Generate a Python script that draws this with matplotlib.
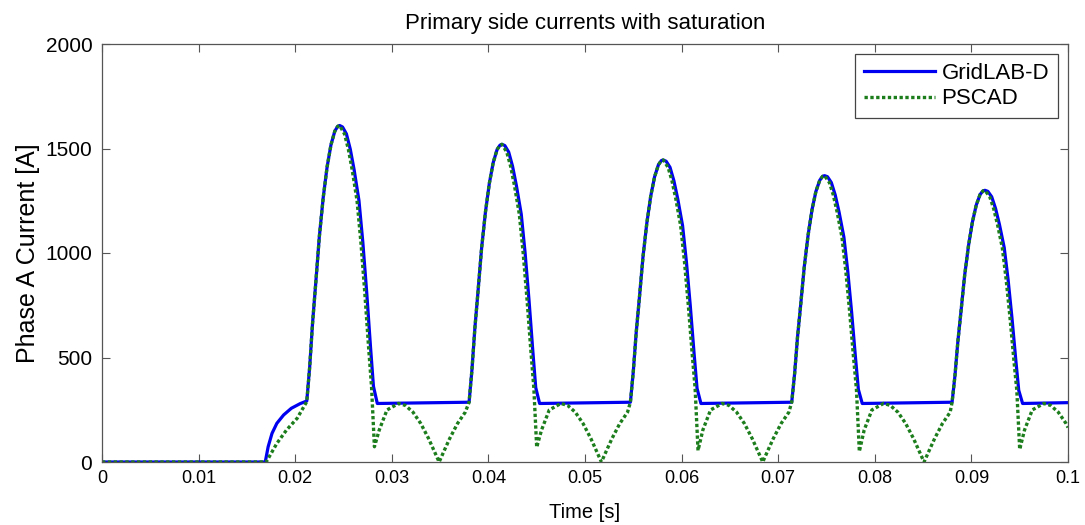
import matplotlib
matplotlib.use("Agg")
import matplotlib.pyplot as plt

plt.rcParams['font.family'] = ['Liberation Sans', 'DejaVu Sans']

# ---- GridLAB-D (blue) ----
gl_t = [0.0, 0.0169, 0.0172, 0.0176, 0.0181, 0.0188, 0.0196, 0.0205,
        0.0212, 0.0215, 0.0218, 0.0221, 0.0225, 0.0229, 0.0233, 0.0237, 0.0241, 0.0244, 0.0246,
        0.0249, 0.0253, 0.0257, 0.0261, 0.0266, 0.0270, 0.0274, 0.0278, 0.0281, 0.0285,
        0.0380, 0.0383, 0.0386, 0.0389, 0.0393, 0.0397, 0.0401, 0.0405, 0.0409, 0.0412, 0.0414,
        0.0417, 0.0421, 0.0425, 0.0429, 0.0434, 0.0438, 0.0442, 0.0446, 0.0449, 0.0453,
        0.0547, 0.0550, 0.0553, 0.0556, 0.0560, 0.0564, 0.0568, 0.0572, 0.0576, 0.0579, 0.0581,
        0.0584, 0.0588, 0.0592, 0.0596, 0.0601, 0.0605, 0.0609, 0.0613, 0.0616, 0.0620,
        0.0714, 0.0717, 0.0720, 0.0723, 0.0727, 0.0731, 0.0735, 0.0739, 0.0743, 0.0746, 0.0748,
        0.0751, 0.0755, 0.0759, 0.0763, 0.0768, 0.0772, 0.0776, 0.0780, 0.0783, 0.0787,
        0.0880, 0.0883, 0.0886, 0.0889, 0.0893, 0.0897, 0.0901, 0.0905, 0.0909, 0.0912, 0.0914,
        0.0917, 0.0921, 0.0925, 0.0929, 0.0934, 0.0938, 0.0942, 0.0946, 0.0949, 0.0953,
        0.1000]
gl_a = [0, 0, 73, 137, 185, 225, 257, 279,
        292, 455, 667, 840, 1079, 1265, 1411, 1517, 1583, 1606, 1610,
        1603, 1570, 1497, 1398, 1251, 1052, 813, 548, 362, 280,
        286, 443, 641, 802, 1025, 1198, 1334, 1433, 1495, 1516, 1520,
        1514, 1483, 1415, 1322, 1186, 1000, 777, 530, 356, 280,
        286, 433, 619, 770, 980, 1143, 1271, 1364, 1422, 1442, 1445,
        1439, 1410, 1346, 1259, 1131, 957, 747, 515, 352, 280,
        286, 423, 598, 739, 935, 1087, 1207, 1294, 1348, 1367, 1370,
        1365, 1337, 1278, 1196, 1076, 913, 717, 500, 347, 280,
        286, 414, 577, 710, 893, 1035, 1147, 1229, 1280, 1297, 1300,
        1295, 1269, 1213, 1137, 1025, 872, 689, 486, 343, 280,
        284]

# ---- PSCAD (green) ----
ps_t = [0.0, 0.0170, 0.0181, 0.0191, 0.0202,
        0.0212, 0.0215, 0.0218, 0.0221, 0.0225, 0.0229, 0.0233, 0.0237, 0.0241, 0.0244, 0.0246,
        0.0251, 0.0255, 0.0259, 0.0264, 0.0268, 0.0272, 0.0276, 0.0279, 0.0282,
        0.0287, 0.0295, 0.0307, 0.0314, 0.0322, 0.0330, 0.0338, 0.0344, 0.0349, 0.0354, 0.0360, 0.0368, 0.0376,
        0.0380, 0.0383, 0.0386, 0.0389, 0.0393, 0.0397, 0.0401, 0.0405, 0.0409, 0.0412, 0.0414,
        0.0419, 0.0423, 0.0427, 0.0432, 0.0436, 0.0440, 0.0444, 0.0447, 0.0450,
        0.0455, 0.0463, 0.0475, 0.0482, 0.0490, 0.0498, 0.0506, 0.0512, 0.0517, 0.0522, 0.0528, 0.0536, 0.0544,
        0.0547, 0.0550, 0.0553, 0.0556, 0.0560, 0.0564, 0.0568, 0.0572, 0.0576, 0.0579, 0.0581,
        0.0586, 0.0590, 0.0594, 0.0599, 0.0603, 0.0607, 0.0611, 0.0614, 0.0617,
        0.0622, 0.0630, 0.0642, 0.0649, 0.0657, 0.0665, 0.0673, 0.0679, 0.0684, 0.0689, 0.0695, 0.0703, 0.0711,
        0.0714, 0.0717, 0.0720, 0.0723, 0.0727, 0.0731, 0.0735, 0.0739, 0.0743, 0.0746, 0.0748,
        0.0753, 0.0757, 0.0761, 0.0766, 0.0770, 0.0774, 0.0778, 0.0781, 0.0784,
        0.0789, 0.0797, 0.0809, 0.0816, 0.0824, 0.0832, 0.0840, 0.0846, 0.0851, 0.0856, 0.0862, 0.0870, 0.0878,
        0.0880, 0.0883, 0.0886, 0.0889, 0.0893, 0.0897, 0.0901, 0.0905, 0.0909, 0.0912, 0.0914,
        0.0919, 0.0923, 0.0927, 0.0932, 0.0936, 0.0940, 0.0944, 0.0947, 0.0950,
        0.0955, 0.0963, 0.0975, 0.0982, 0.0990, 0.0998, 0.1000]
ps_a = [0, 0, 89, 153, 209,
        289, 455, 667, 840, 1079, 1265, 1411, 1517, 1583, 1606, 1610,
        1570, 1497, 1398, 1251, 1052, 813, 548, 362, 73,
        153, 249, 280, 271, 238, 184, 113, 52, 0, 52, 113, 184, 238,
        286, 443, 641, 802, 1025, 1198, 1334, 1433, 1495, 1516, 1520,
        1483, 1415, 1322, 1186, 1000, 777, 530, 356, 70,
        153, 249, 280, 271, 238, 184, 113, 52, 0, 52, 113, 184, 238,
        286, 433, 619, 770, 980, 1143, 1271, 1364, 1422, 1442, 1445,
        1410, 1346, 1259, 1131, 957, 747, 515, 352, 55,
        153, 249, 280, 271, 238, 184, 113, 52, 0, 52, 113, 184, 238,
        286, 423, 598, 739, 935, 1087, 1207, 1294, 1348, 1367, 1370,
        1337, 1278, 1196, 1076, 913, 717, 500, 347, 50,
        153, 249, 280, 271, 238, 184, 113, 52, 0, 52, 113, 184, 238,
        286, 414, 577, 710, 893, 1035, 1147, 1229, 1280, 1297, 1300,
        1269, 1213, 1137, 1025, 872, 689, 486, 343, 60,
        153, 249, 280, 271, 238, 184, 165]

x_ticks = [0, 0.01, 0.02, 0.03, 0.04, 0.05, 0.06, 0.07, 0.08, 0.09, 0.1]
x_tick_labels = ['0', '0.01', '0.02', '0.03', '0.04', '0.05', '0.06', '0.07', '0.08', '0.09', '0.1']
y_ticks = [0, 500, 1000, 1500, 2000]
y_tick_labels = ['0', '500', '1000', '1500', '2000']

fig = plt.figure(figsize=(10.85, 5.25), dpi=100)
ax = fig.add_axes([102/1085, 1-462/525, (1068-102)/1085, (462-44)/525])

ax.plot(gl_t, gl_a, color='#0000f0', lw=2.3, label='GridLAB-D', solid_joinstyle='round')
ax.plot(ps_t, ps_a, color='#1c7d1c', lw=2.4, linestyle=(0, (1.0, 0.75)), label='PSCAD')

ax.set_xlim(0, 0.1)
ax.set_ylim(0, 2000)
ax.set_xticks(x_ticks)
ax.set_xticklabels(x_tick_labels)
ax.set_yticks(y_ticks)
ax.set_yticklabels(y_tick_labels)
ax.tick_params(direction='in', top=True, right=True, length=6, width=0.8,
               color='#555555')
ax.tick_params(axis='x', labelsize=13, pad=6)
ax.tick_params(axis='y', labelsize=15, pad=7)
for s in ax.spines.values():
    s.set_color('#555555')
    s.set_linewidth(0.9)

ax.set_xlabel('Time [s]', fontsize=14.5, labelpad=11)
ax.set_ylabel('Phase A Current [A]', fontsize=18, labelpad=4)
ax.set_title('Primary side currents with saturation', fontsize=16, pad=11)

leg = ax.legend(loc='upper right', fontsize=16, handlelength=3.2, fancybox=False,
                framealpha=1, edgecolor='#444444', borderaxespad=0.45,
                handletextpad=0.3, labelspacing=0.2, borderpad=0.4)
leg.get_frame().set_linewidth(0.9)

fig.savefig('out.png', dpi=100)
